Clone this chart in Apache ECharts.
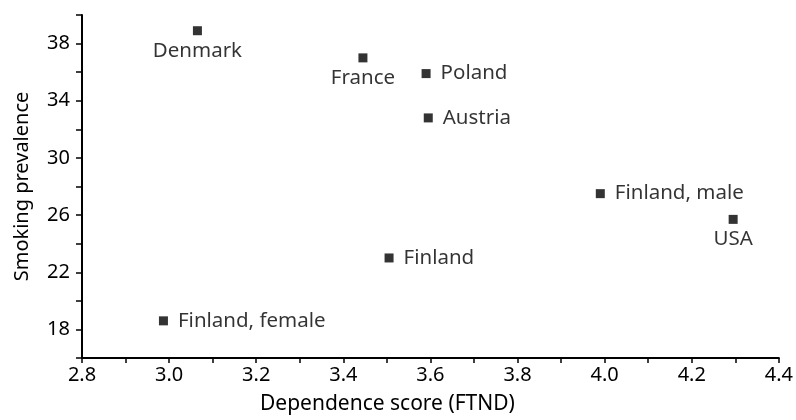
<!DOCTYPE html>
<html>
<head>
<meta charset="utf-8">
<script src="https://cdn.jsdelivr.net/npm/echarts@6/dist/echarts.min.js"></script>
<style>
  html, body { margin: 0; padding: 0; background: #fff; }
  #chart { width: 796px; height: 420px; }
</style>
</head>
<body>
<div id="chart"></div>
<script>
// values
var countries = ['Denmark', 'France', 'Poland', 'Austria', 'Finland, male', 'USA', 'Finland', 'Finland, female'];
var ftnd = [3.065, 3.445, 3.59, 3.595, 3.99, 4.295, 3.505, 2.987];
var prevalence = [38.9, 37.0, 35.9, 32.8, 27.5, 25.7, 23.0, 18.6];

// where each label sits relative to its marker
var labelSide = {
    'Denmark': 'bottom', 'France': 'bottom', 'USA': 'bottom'
};

var font = 'Noto Sans';

var points = [];
for (var i = 0; i < countries.length; i++) {
    var side = labelSide[countries[i]] || 'right';
    points.push({
        value: [ftnd[i], prevalence[i]],
        name: countries[i],
        label: { position: side, distance: side == 'right' ? 10 : 5 }
    });
}

var chart = echarts.init(document.getElementById('chart'));
chart.setOption({
    animation: false,
    grid: { left: 82, right: 17, top: 15, bottom: 62 },
    xAxis: {
        type: 'value',
        min: 2.8,
        max: 4.4,
        interval: 0.1,
        name: 'Dependence score (FTND)',
        nameLocation: 'middle',
        nameGap: 36,
        nameTextStyle: { fontFamily: font, fontSize: 21, color: '#000', padding: [0, 86, 0, 0] },
        axisLine: { lineStyle: { color: '#000', width: 2 } },
        axisTick: { length: 5, lineStyle: { color: '#000', width: 1.5 } },
        axisLabel: {
            fontFamily: font, fontSize: 20, color: '#000', margin: 7,
            formatter: function(v) {
                var k = Math.round(v * 10);
                return k % 2 == 0 ? (k / 10).toFixed(1) : '';
            }
        },
        splitLine: { show: false }
    },
    yAxis: {
        type: 'value',
        min: 16,
        max: 40,
        interval: 2,
        name: 'Smoking prevalence',
        nameLocation: 'middle',
        nameGap: 50,
        nameTextStyle: { fontFamily: font, fontSize: 20, color: '#000' },
        axisLine: { lineStyle: { color: '#000', width: 2 } },
        axisTick: { length: 6, lineStyle: { color: '#000', width: 1.5 } },
        axisLabel: {
            fontFamily: font, fontSize: 20, color: '#000', margin: 12,
            formatter: function(v) {
                return (v - 18) % 4 == 0 ? v : '';
            }
        },
        splitLine: { show: false }
    },
    series: [{
        type: 'scatter',
        symbol: 'rect',
        symbolSize: 9,
        itemStyle: { color: '#000' },
        label: {
            show: true,
            formatter: '{b}',
            fontFamily: font,
            fontSize: 20.5,
            color: '#000'
        },
        data: points
    }]
});
</script>
</body>
</html>
